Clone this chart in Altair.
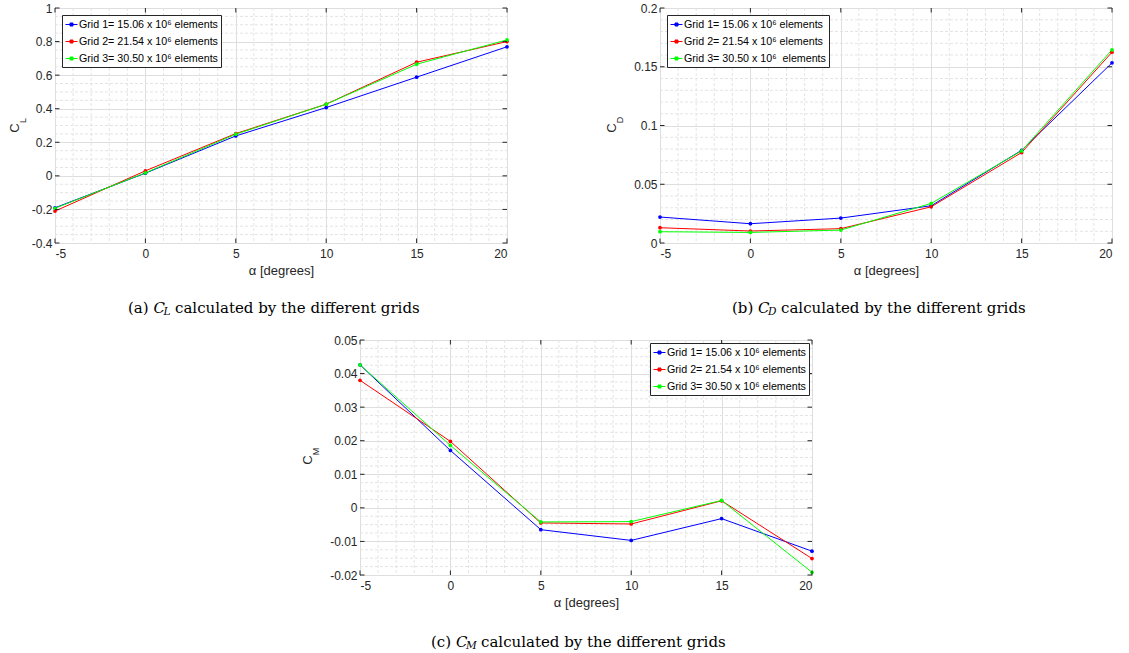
import altair as alt
import pandas as pd
import numpy as np

# ---------------- data ----------------
alpha = [-5, 0, 5, 10, 15, 20]
colors = ["#0000ff", "#ff0000", "#00ff00"]
labels_ac = ["Grid 1= 15.06 x 10\u2076 elements",
             "Grid 2= 21.54 x 10\u2076 elements",
             "Grid 3= 30.50 x 10\u2076 elements"]
labels_b = ["Grid 1= 15.06 x 10\u2076 elements",
            "Grid 2= 21.54 x 10\u2076 elements",
            "Grid 3= 30.50 x 10\u2076\u00a0 elements"]

cl_g1 = [-0.190, 0.016, 0.238, 0.407, 0.588, 0.769]
cl_g2 = [-0.210, 0.030, 0.252, 0.427, 0.677, 0.800]
cl_g3 = [-0.193, 0.018, 0.248, 0.427, 0.665, 0.810]

cd_g1 = [0.0221, 0.0164, 0.0212, 0.0317, 0.0789, 0.1533]
cd_g2 = [0.0130, 0.0102, 0.0122, 0.0308, 0.0770, 0.1624]
cd_g3 = [0.0096, 0.0090, 0.0110, 0.0337, 0.0784, 0.1644]

cm_g1 = [0.0426, 0.0171, -0.0065, -0.0097, -0.0032, -0.0129]
cm_g2 = [0.0380, 0.0198, -0.0045, -0.0048, 0.0021, -0.0151]
cm_g3 = [0.0426, 0.0186, -0.0042, -0.0041, 0.0022, -0.0192]

x_major = [-5, 0, 5, 10, 15, 20]
cl_major = [-0.4, -0.2, 0, 0.2, 0.4, 0.6, 0.8, 1]
cd_major = [0, 0.05, 0.1, 0.15, 0.2]
cm_major = [-0.02, -0.01, 0, 0.01, 0.02, 0.03, 0.04, 0.05]


def minor(lo, hi, step, major):
    vals = [round(v, 5) for v in np.arange(lo, hi + step / 2, step)]
    return [v for v in vals if all(abs(v - m) > step / 10 for m in major)]


x_minor = minor(-5, 20, 1, x_major)
cl_minor = minor(-0.4, 1, 0.05, cl_major)
cd_minor = minor(0, 0.2, 0.01, cd_major)
cm_minor = minor(-0.02, 0.05, 0.0025, cm_major)

x_title = "\u03b1 [degrees]"
cap_rest = "calculated by the different grids"

# ---------------- style ----------------
W, H = 452, 235
AX = "#262626"
SANS = "Liberation Sans"
SERIF = "DejaVu Serif"
SYM = "M-1,0H1M-0.25,-0.25H0.25V0.25H-0.25Z"


def txt(s, x, y, **kw):
    return alt.Chart(pd.DataFrame({"t": [s]})).mark_text(**kw).encode(
        x=alt.value(x), y=alt.value(y), text="t:N")


def panel(series, labels, ydom, ymaj, ymin, ysub, ytx, subdy, cap, legend_orient, legend_offset):
    rows = []
    for lab, vals in zip(labels, series):
        for a, v in zip(alpha, vals):
            rows.append({"alpha": a, "val": v, "grid": lab})
    df = pd.DataFrame(rows)
    xs = alt.Scale(domain=[-5, 20], nice=False, zero=False)
    ys = alt.Scale(domain=ydom, nice=False, zero=False)
    xaxis = alt.Axis(
        values=x_major, title=x_title, grid=True, gridColor="#dedede", ticks=False,
        domain=False, labelExpr="'' + datum.value", labelFont=SANS, labelFontSize=12,
        labelColor=AX, labelPadding=5, titleFont=SANS, titleFontSize=13,
        titleFontWeight="normal", titleColor=AX, titlePadding=5)
    yaxis = alt.Axis(
        values=ymaj, title=None, grid=True, gridColor="#dedede", ticks=False,
        domain=False, labelExpr="'' + datum.value", labelFont=SANS, labelFontSize=12,
        labelColor=AX, labelPadding=3)

    def X(f):
        return alt.X(f, scale=xs, axis=xaxis, title=x_title)

    def Y(f):
        return alt.Y(f, scale=ys, axis=yaxis, title=None)

    mx = alt.Chart(pd.DataFrame({"v": x_minor})).mark_rule(
        color="#e4e4e4", strokeDash=[3, 2], strokeWidth=1).encode(
        x=X("v:Q"), y=alt.value(0), y2=alt.value(H))
    my = alt.Chart(pd.DataFrame({"v": ymin})).mark_rule(
        color="#e4e4e4", strokeDash=[3, 2], strokeWidth=1).encode(
        y=Y("v:Q"), x=alt.value(0), x2=alt.value(W))

    tick_x = alt.Chart(pd.DataFrame({"v": x_major})).mark_rule(color=AX, strokeWidth=1)
    tick_y = alt.Chart(pd.DataFrame({"v": ymaj})).mark_rule(color=AX, strokeWidth=1)
    tb = tick_x.encode(x=X("v:Q"), y=alt.value(H), y2=alt.value(H - 4.5))
    tt = tick_x.encode(x=X("v:Q"), y=alt.value(0), y2=alt.value(4.5))
    tl = tick_y.encode(y=Y("v:Q"), x=alt.value(0), x2=alt.value(4.5))
    tr = tick_y.encode(y=Y("v:Q"), x=alt.value(W), x2=alt.value(W - 4.5))

    main = alt.Chart(df).mark_line(
        strokeWidth=1, point=alt.OverlayMarkDef(filled=True, size=14)).encode(
        x=X("alpha:Q"),
        y=Y("val:Q"),
        color=alt.Color("grid:N", scale=alt.Scale(domain=labels, range=colors),
                        legend=alt.Legend(
                            title=None, orient=legend_orient, offset=legend_offset,
                            symbolType=SYM, symbolSize=144, symbolStrokeWidth=1,
                            labelFont=SANS, labelFontSize=10.7, labelColor="#000000",
                            labelOffset=1, labelLimit=400, rowPadding=5, padding=3,
                            strokeColor=AX, fillColor="#ffffff")),
    )

    # y title: C + subscript
    yc = txt("C", ytx, 120, font=SANS, fontSize=13, angle=270, color=AX,
             align="center", baseline="middle")
    ys_ = txt(ysub, ytx + 8, 120 - subdy, font=SANS, fontSize=9, angle=270, color=AX,
              align="center", baseline="middle")

    # caption
    p1, x1, xc, xsub, xr, cy = cap
    c1 = txt(p1, x1, cy, font=SERIF, fontSize=15, align="left", color="#000000")
    c2 = txt("C", xc, cy, font=SERIF, fontSize=15, fontStyle="italic", align="left", color="#000000")
    c3 = txt(ysub, xsub, cy + 3.5, font=SERIF, fontSize=10.5, fontStyle="italic", align="left",
             color="#000000")
    c4 = txt(cap_rest, xr, cy, font=SERIF, fontSize=15, align="left", color="#000000")

    return alt.layer(mx, my, main, tb, tt, tl, tr, yc, ys_, c1, c2, c3, c4).properties(
        width=W, height=H)


pa = panel([cl_g1, cl_g2, cl_g3], labels_ac, [-0.4, 1], cl_major, cl_minor, "L", -40, 7.5,
           ("(a)", 73, 98.4, 108.4, 120, 300), "top-left", 6.5)
pb = panel([cd_g1, cd_g2, cd_g3], labels_b, [0, 0.2], cd_major, cd_minor, "D", -48, 8,
           ("(b)", 72, 98.1, 108.1, 121, 300), "top-left", 6.5)
pc = panel([cm_g1, cm_g2, cm_g3], labels_ac, [-0.02, 0.05], cm_major, cm_minor, "M", -52, 8.5,
           ("(c)", 71, 95.9, 105.9, 121, 302), "top-right", 3)

spacer = alt.Chart(pd.DataFrame({"v": [0]})).mark_point(opacity=0).encode(
    x=alt.value(0), y=alt.value(0)).properties(
    width=245, height=10, view=alt.ViewBackground(stroke="transparent"))

top = alt.hconcat(pa, pb, spacing=95).resolve_scale(
    x="independent", y="independent", color="independent").resolve_legend(color="independent")
bottom = alt.hconcat(spacer, pc, spacing=0).resolve_scale(
    x="independent", y="independent", color="independent")

chart = alt.vconcat(top, bottom, spacing=15).resolve_scale(
    x="independent", y="independent", color="independent").resolve_legend(
    color="independent").properties(
    padding={"left": 8, "top": 1, "right": 0, "bottom": 0},
    background="#ffffff").configure_view(stroke=AX, strokeWidth=1)

chart.save("out.html", embed_options={"renderer": "svg", "actions": False})
